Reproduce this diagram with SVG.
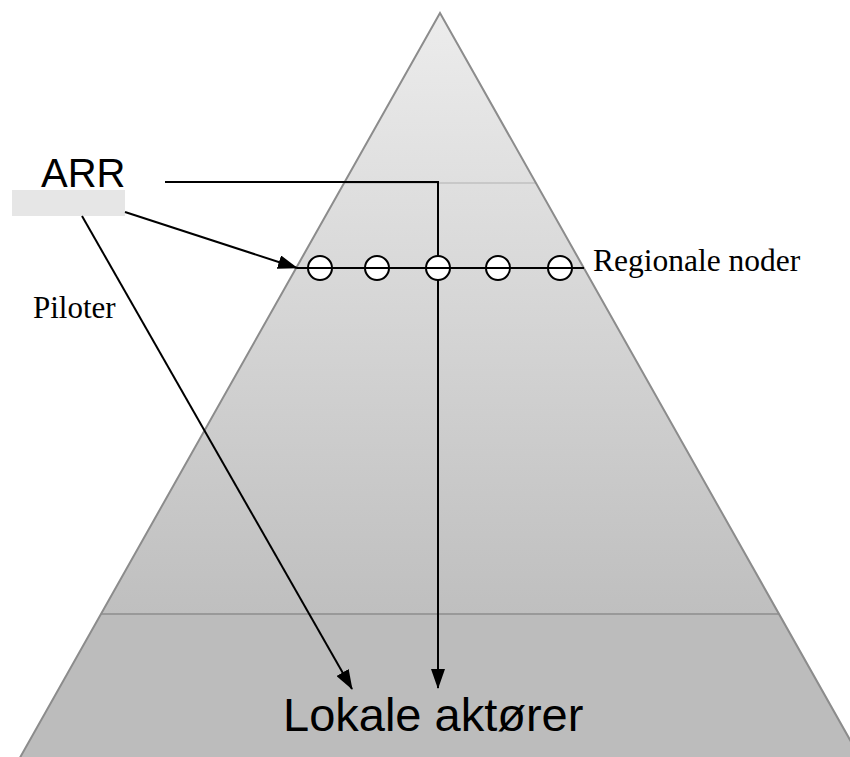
<svg xmlns="http://www.w3.org/2000/svg" width="850" height="757" viewBox="0 0 850 757">
<defs>
<linearGradient id="pyrGrad" gradientUnits="userSpaceOnUse" x1="0" y1="13" x2="0" y2="614">
<stop offset="0" stop-color="#ececec"/>
<stop offset="1" stop-color="#bfbfbf"/>
</linearGradient>
<clipPath id="pyrClip"><polygon points="440,13 13,770 867,770"/></clipPath>
<marker id="arrow" markerUnits="userSpaceOnUse" markerWidth="20" markerHeight="14" refX="19" refY="7" orient="auto" viewBox="0 0 20 14">
<path d="M0,0 L20,7 L0,14 z" fill="#000"/>
</marker>
<style>
.conn{fill:none;stroke:#000;stroke-width:2}
.node{fill:#fff;stroke:#000;stroke-width:2}
.serif{font-family:"Liberation Serif","Times New Roman",serif;fill:#000}
.sans{font-family:"Liberation Sans",Arial,sans-serif;fill:#000}
</style>
</defs>
<rect width="850" height="757" fill="#fff"/>
<g id="pyramid">
<g clip-path="url(#pyrClip)">
<rect x="0" y="0" width="850" height="614" fill="url(#pyrGrad)"/>
<rect x="0" y="614" width="850" height="160" fill="#bcbcbc"/>
<line x1="330" y1="183" x2="550" y2="183" stroke="#c8c8c8" stroke-width="2"/>
<line x1="90" y1="614" x2="790" y2="614" stroke="#999" stroke-width="2"/>
</g>
<polygon points="440,13 13,770 867,770" fill="none" stroke="#8c8c8c" stroke-width="2"/>
</g>
<g id="arr-label">
<text class="sans" x="41" y="187" font-size="40">ARR</text>
</g>
<g id="arr-box">
<rect x="12" y="190" width="113" height="26" fill="#e6e6e6"/>
</g>
<g id="connectors">
<path class="conn" d="M165,182 H438 V688" marker-end="url(#arrow)"/>
<line class="conn" x1="125" y1="212" x2="297" y2="268" marker-end="url(#arrow)"/>
<line class="conn" x1="82" y1="216" x2="352" y2="689" marker-end="url(#arrow)"/>
</g>
<g id="regional-nodes">
<line class="conn" x1="297" y1="268" x2="584" y2="268"/>
<circle class="node" cx="320" cy="268" r="12"/>
<circle class="node" cx="377" cy="268" r="12"/>
<circle class="node" cx="438" cy="268" r="12"/>
<circle class="node" cx="498" cy="268" r="12"/>
<circle class="node" cx="560" cy="268" r="12"/>
<line class="conn" x1="297" y1="268" x2="584" y2="268"/>
</g>
<g id="regionale-label">
<text class="serif" x="593" y="271" font-size="31.5">Regionale noder</text>
</g>
<g id="piloter-label">
<text class="serif" x="33" y="318" font-size="31">Piloter</text>
</g>
<g id="lokale-label">
<text class="sans" x="283" y="731" font-size="47">Lokale aktører</text>
</g>
</svg>
